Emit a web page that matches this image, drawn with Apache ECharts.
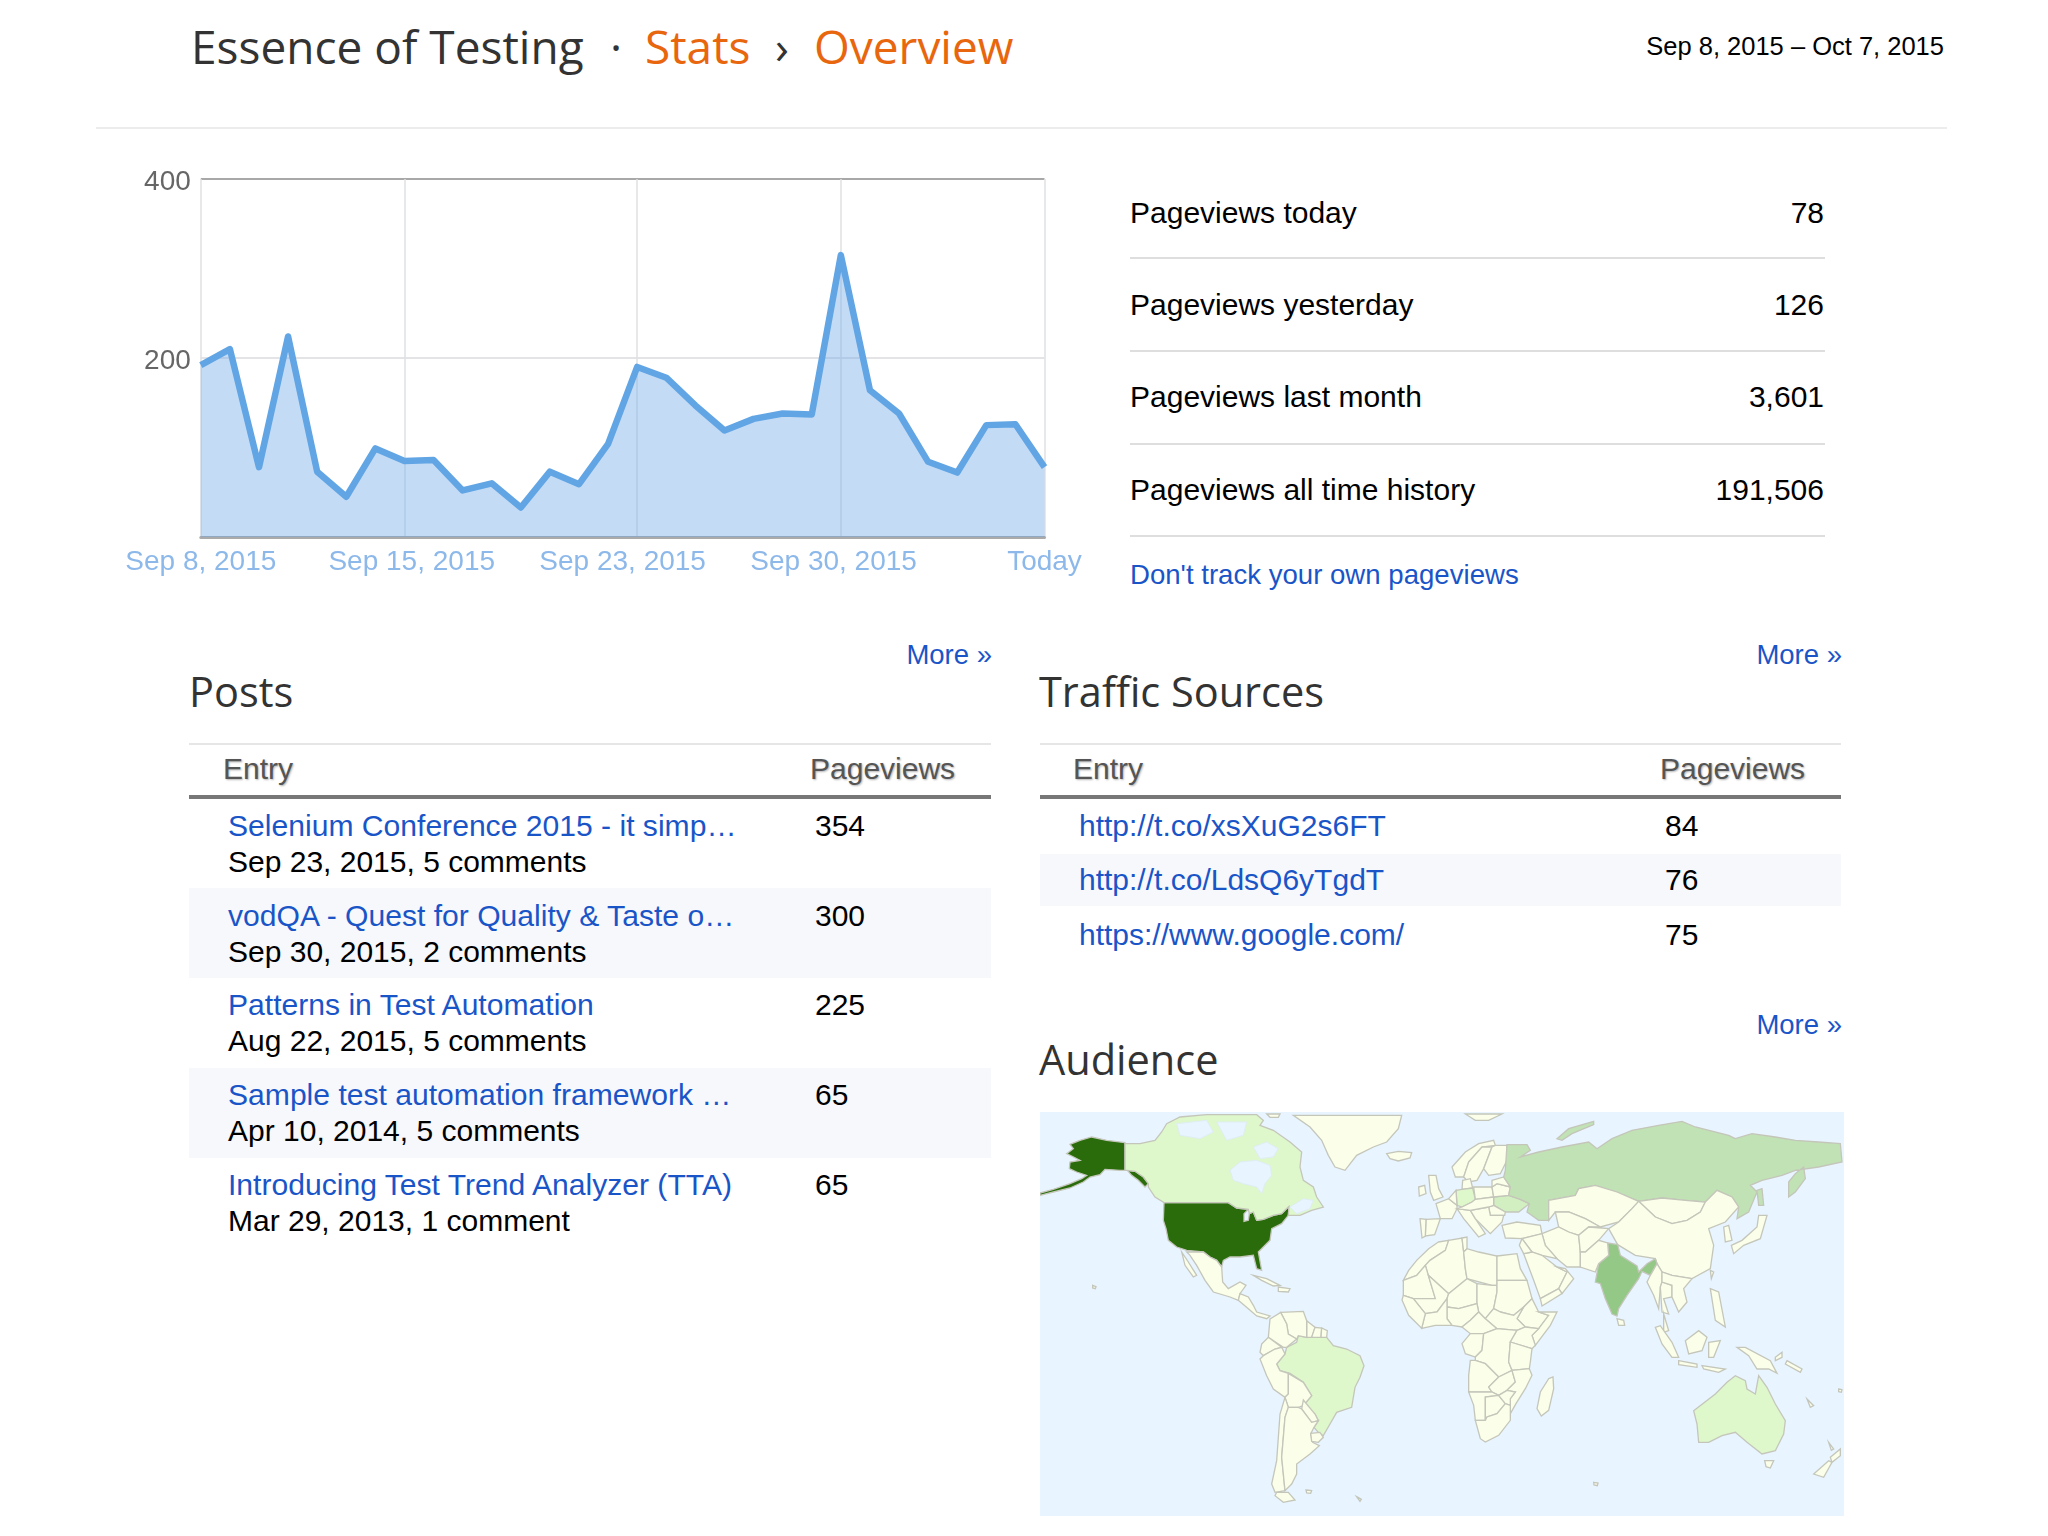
<!DOCTYPE html>
<html>
<head>
<meta charset="utf-8">
<title>Stats Overview</title>
<script src="https://cdn.jsdelivr.net/npm/echarts@6/dist/echarts.min.js"></script>
<style>
html,body{margin:0;padding:0;background:#fff;width:2048px;height:1536px;overflow:hidden;font-family:"Liberation Sans",Arial,sans-serif;}
#page{position:relative;width:2048px;height:1536px;}
.t{position:absolute;white-space:nowrap;line-height:40px;height:40px;}
.head{font-family:"Open Sans",sans-serif;color:#333;}
.orange{color:#e8660e;}
.link{color:#1a55c8;}
.th{color:#555;text-shadow:1px 1px 2px rgba(0,0,0,.3);}
.rule{position:absolute;}
#trend{position:absolute;left:100px;top:150px;width:1000px;height:450px;}
#world{position:absolute;left:1040px;top:1112px;width:804px;height:404px;background:#e8f4ff;filter:blur(0.6px);}
</style>
</head>
<body>
<div id="page">
	<div id="trend"></div>
	<div id="world"></div>
</div>
<script>
var days=['Sep 8','Sep 9','Sep 10','Sep 11','Sep 12','Sep 13','Sep 14','Sep 15','Sep 16','Sep 17','Sep 18','Sep 19','Sep 20','Sep 21','Sep 22','Sep 23','Sep 24','Sep 25','Sep 26','Sep 27','Sep 28','Sep 29','Sep 30','Oct 1','Oct 2','Oct 3','Oct 4','Oct 5','Oct 6','Oct 7'];
var pageviews=[192,210,78,224,73,45,99,85,86,52,60,33,73,59,104,190,178,147,119,132,138,137,315,164,138,84,72,125,126,78];
var gridDays=[0,7,15,22,29];
var xLabels=['Sep 8, 2015','Sep 15, 2015','Sep 23, 2015','Sep 30, 2015','Today'];

var statLabels=['Pageviews today','Pageviews yesterday','Pageviews last month','Pageviews all time history'];
var statValues=['78','126','3,601','191,506'];

var postTitles=['Selenium Conference 2015 - it simp…','vodQA - Quest for Quality & Taste o…','Patterns in Test Automation','Sample test automation framework …','Introducing Test Trend Analyzer (TTA)'];
var postDates=['Sep 23, 2015, 5 comments','Sep 30, 2015, 2 comments','Aug 22, 2015, 5 comments','Apr 10, 2014, 5 comments','Mar 29, 2013, 1 comment'];
var postViews=[354,300,225,65,65];

var sourceUrls=['http://t.co/xsXuG2s6FT','http://t.co/LdsQ6yTgdT','https://www.google.com/'];
var sourceViews=[84,76,75];

// audience shading (no numbers are printed on it)
var audienceCountries=['United States','India','Russia','Ukraine','Canada','Brazil','Australia','Germany'];
var audienceLevels=[100,75,50,35,25,25,25,25];

// outlines in map units, 3 units = 1 screen pixel, y down
var westLand={
	'United States':[
		[372,272,565,272,590,288,625,292,612,305,612,328,625,325,628,305,640,300,650,325,670,322,700,310,725,305,735,295,747,283,745,310,725,335,695,350,690,385,670,405,655,420,665,475,650,470,640,430,600,435,570,435,550,445,545,465,530,445,510,435,490,420,440,415,410,405,385,385,378,350,370,325],
		[255,92,255,175,240,175,195,172,180,188,150,195,130,210,90,228,40,240,0,250,0,243,40,232,90,215,125,200,140,190,110,180,88,170,90,150,120,145,95,132,80,125,100,110,90,97,120,85,155,75,200,85],
		[262,175,285,178,310,195,325,215,315,225,295,205,275,190]
	],
	'Canada':[[255,95,300,95,345,85,365,60,380,35,420,15,500,8,650,8,670,25,660,40,700,55,750,90,785,120,780,165,790,205,820,225,830,255,850,285,815,295,780,310,745,310,747,283,735,295,725,305,700,310,670,322,650,325,640,300,628,305,625,292,590,288,565,272,372,272,345,255,325,225,325,215,310,195,285,178,262,175,255,175]],
	'Greenland':[[760,10,1085,10,1075,50,1040,90,1000,105,950,130,915,175,885,165,865,130,845,85,810,45]],
	'Iceland':[[1040,125,1075,118,1115,122,1110,138,1075,147,1050,140]],
	'Mexico':[[440,420,490,420,510,435,530,445,545,465,548,510,565,530,600,510,618,520,600,545,595,565,570,555,520,540,495,505,470,460,450,430],[425,420,445,450,470,490,460,495,435,460]],
	'Central America':[[600,545,625,555,640,580,650,600,690,612,680,620,650,612,625,590,595,565]],
	'Cuba':[[640,490,680,500,720,520,700,522,665,505]],
	'Hispaniola':[[715,525,750,530,745,540,715,538]],
	'Hawaii':[[158,520,168,524,166,530,158,528]],
	'Arctic islands':[[680,6,720,6,715,16,690,16]]
};
var southAmerica={
	'Brazil':[[710,150,735,120,740,100,770,85,775,65,800,70,860,70,880,95,920,105,960,125,972,155,960,190,945,220,935,280,890,295,870,330,850,365,835,355,822,340,835,320,825,300,790,275,815,245,790,205,750,178,720,170]],
	'Guyana':[[800,20,825,40,815,70,800,70]],
	'Suriname':[[825,40,845,42,843,70,815,70]],
	'French Guiana':[[845,42,862,50,860,70,843,70]],
	'Venezuela':[[722,-5,790,-8,800,20,800,70,775,65,770,75,745,60,740,30]],
	'Colombia':[[690,15,722,-5,740,30,745,60,770,75,740,100,730,100,685,70]],
	'Ecuador':[[665,90,685,70,725,100,705,105,670,125,660,115]],
	'Peru':[[670,125,705,105,725,100,735,120,710,150,720,170,745,178,745,240,735,250,700,225,680,185,660,135]],
	'Bolivia':[[745,178,790,205,815,245,790,275,775,280,745,280,735,250,745,240]],
	'Paraguay':[[790,258,825,300,835,320,815,325,785,285]],
	'Chile':[[735,250,745,280,735,310,725,430,735,530,705,535,695,510,710,440,720,300]],
	'Argentina':[[745,280,775,280,785,285,815,325,835,320,822,340,812,360,818,385,838,395,810,420,770,450,770,480,755,510,735,530,725,430,735,310]],
	'Uruguay':[[812,358,840,355,850,370,835,385,815,382]],
	'Tierra del Fuego':[[710,535,745,535,765,558,730,565,705,545]],
	'Falklands':[[798,528,815,530,812,538,800,537]],
	'South Georgia':[[950,548,964,556,960,562]]
};
var eastLand={
	'Morocco':[[-11,390,20,385,10,415,-36,445,-50,460,-76,490,-116,505,-100,475,-76,445,-40,410]],
	'Algeria':[[20,385,60,378,65,420,70,470,75,500,20,545,-41,490,-50,460,-36,445,10,415]],
	'Tunisia':[[60,378,75,375,75,410,65,420]],
	'Libya':[[65,420,75,410,110,420,165,432,165,505,165,520,150,520,75,500,70,470]],
	'Egypt':[[165,432,225,425,235,470,255,505,165,505]],
	'Mauritania':[[-116,505,-76,490,-50,460,-41,490,-20,560,-86,560,-116,550]],
	'Mali':[[-41,490,20,545,15,560,-15,600,-50,605,-86,560,-20,560]],
	'Niger':[[75,500,105,515,105,575,50,590,15,585,15,560,20,545]],
	'Chad':[[105,515,150,520,165,520,165,540,155,590,130,620,110,600,105,575]],
	'Sudan':[[165,505,255,505,270,560,245,585,215,610,175,600,155,590,165,540]],
	'Ethiopia':[[245,585,270,560,290,600,320,610,290,650,250,645,225,620]],
	'Somalia':[[290,600,345,600,325,640,280,700,270,670,290,650,320,610]],
	'Central African Republic':[[175,600,215,610,245,585,225,620,250,645,225,655,165,650,130,620,155,590]],
	'Nigeria':[[15,585,50,590,105,575,110,600,85,625,60,645,30,640,15,620]],
	'Ivory Coast':[[-15,600,15,560,15,620,30,640,-20,640,-61,649,-50,605]],
	'Guinea':[[-116,550,-86,560,-50,605,-61,649,-100,610,-120,564]],
	'Cameroon':[[110,600,130,620,165,650,125,665,85,665,60,645,85,625]],
	'Gabon':[[85,665,125,665,120,715,100,735,70,725,60,695]],
	'DR Congo':[[125,665,165,650,225,655,205,690,200,750,210,775,170,795,130,755,100,745,100,735,120,715]],
	'Kenya':[[225,655,250,645,290,650,270,670,280,700,270,710,205,690]],
	'Tanzania':[[205,690,270,710,265,750,262,770,210,775,200,750]],
	'Angola':[[85,745,100,745,130,755,170,795,140,825,150,840,80,840,80,790]],
	'Zambia':[[170,795,210,775,220,810,195,835,170,850,150,840,140,825]],
	'Mozambique':[[262,770,270,790,250,830,222,875,205,905,205,860,220,840,195,835,220,810,210,775]],
	'Namibia':[[80,840,150,840,170,850,130,855,130,925,100,925,95,880]],
	'Botswana':[[130,855,170,850,190,875,165,905,135,915,130,925]],
	'Zimbabwe':[[170,850,195,835,220,840,205,860,205,880,190,875]],
	'South Africa':[[100,925,130,925,135,915,165,905,190,875,205,880,205,925,170,970,130,990,115,980]],
	'Madagascar':[[320,800,333,795,335,830,320,895,298,912,285,890,295,840]],
	'Norway':[[30,165,70,120,110,95,155,85,160,100,120,105,80,150,65,195,40,195]],
	'Sweden':[[80,150,120,105,150,105,125,170,105,205,80,210,65,195]],
	'Finland':[[160,100,195,100,195,145,175,185,140,190,125,170,150,105]],
	'Denmark':[[62,205,85,200,92,228,60,232]],
	'Great Britain':[[-40,190,-18,190,-10,230,3,255,-25,265,-35,240]],
	'Ireland':[[-70,225,-52,220,-48,245,-68,252]],
	'Svalbard':[[70,6,180,6,140,25,100,25]],
	'France':[[-18,275,20,260,45,280,45,290,30,320,-5,320]],
	'Spain':[[-48,322,-5,320,-22,368,-50,372]],
	'Portugal':[[-66,320,-48,322,-50,372,-60,378]],
	'Germany':[[42,235,60,232,92,228,95,225,100,262,90,270,60,285,45,280]],
	'Benelux':[[20,260,42,235,45,280]],
	'Poland':[[95,225,150,225,155,255,100,262]],
	'Italy':[[45,290,85,295,100,320,130,365,110,375,65,320]],
	'Ukraine':[[155,255,200,250,235,262,262,275,230,300,190,300,155,280]],
	'Belarus':[[150,225,165,215,205,225,200,250,155,255]],
	'Baltics':[[150,205,185,195,205,225,165,215,150,225]],
	'Romania':[[140,285,155,280,190,300,188,310,145,310]],
	'Balkans':[[85,295,140,285,145,310,185,310,180,330,145,365,130,350,100,320]],
	'Austria':[[60,285,90,270,100,262,155,255,155,280,140,285,85,295,45,290]],
	'Turkey':[[180,340,225,330,295,340,300,365,240,380,190,378]],
	'Russia':[
		[195,98,255,98,265,115,235,135,290,120,360,105,440,90,465,110,510,80,570,55,650,40,720,28,760,45,860,70,880,80,930,65,1000,75,1060,85,1130,90,1195,95,1200,150,1130,165,1060,175,1020,190,960,205,925,220,945,240,920,300,885,320,890,285,870,255,825,235,790,270,730,265,660,258,590,268,525,240,460,220,410,230,400,250,320,265,320,325,290,325,255,300,262,275,235,262,200,250,205,225,185,195,190,175],
		[1040,210,1060,185,1085,165,1090,200,1060,240,1040,255],
		[945,235,960,230,965,280,950,280],
		[345,80,380,50,455,28,455,38,390,65,360,85]
	],
	'Kazakhstan':[[320,265,400,250,410,230,460,220,525,240,590,268,570,290,530,330,475,345,430,320,380,300,340,300,320,325]],
	'Mongolia':[[590,268,660,258,730,265,790,270,775,300,735,325,690,335,640,315]],
	'China':[[590,268,640,315,690,335,735,325,775,300,790,270,825,235,870,255,890,285,850,330,800,350,815,400,805,470,750,500,690,490,660,480,645,455,640,440,580,430,527,398,500,350,530,330,570,290]],
	'India':[[497,393,527,398,535,430,585,462,590,480,615,455,640,440,645,455,625,490,600,478,590,500,555,550,530,590,525,612,510,606,490,560,475,515,460,510,470,455,500,430]],
	'Sri Lanka':[[525,620,545,625,548,640,530,640]],
	'Uzbekistan':[[340,300,380,300,430,320,475,345,440,345,410,370,380,360,350,345]],
	'Iran':[[300,365,350,345,380,360,410,370,415,420,415,465,375,465,345,440,310,400]],
	'Iraq':[[240,380,300,365,310,400,345,440,300,430,270,420]],
	'Afghanistan':[[410,370,440,345,500,350,470,385,430,420,415,420]],
	'Pakistan':[[415,420,430,420,470,385,497,393,500,430,470,455,460,480,415,465]],
	'Saudi Arabia':[[245,425,270,420,300,430,345,465,375,480,350,530,295,560,275,505]],
	'Oman':[[345,465,370,470,395,500,360,545,350,530,375,480]],
	'Yemen':[[295,560,350,530,360,545,300,582]],
	'Syria':[[240,380,270,420,245,425,232,400]],
	'Myanmar':[[625,490,645,455,660,480,660,510,655,525,650,590,635,550,615,510]],
	'Thailand':[[660,510,690,520,690,555,665,560,680,606,660,600,655,525]],
	'Vietnam':[[690,490,750,500,725,530,735,570,710,600,690,555,690,520,660,510,660,480]],
	'Korea':[[845,345,860,340,870,385,850,390]],
	'Japan':[[868,400,900,385,945,345,950,310,975,310,955,380,905,400,875,425]],
	'Taiwan':[[805,475,815,480,808,500]],
	'Philippines':[[805,530,830,540,850,645,820,625]],
	'Malaysia':[[665,606,680,656,665,661]],
	'Sumatra':[[640,646,655,641,690,691,710,736,690,736,660,696]],
	'Java':[[710,746,765,756,765,766,710,758]],
	'Borneo':[[730,686,770,656,795,676,780,716,740,726]],
	'Sulawesi':[[800,691,835,686,815,736,800,736]],
	'New Guinea':[[885,706,910,706,985,746,1005,784,980,771,945,771,920,731]],
	'Lesser Sunda':[[780,761,850,771,830,781,785,771]],
	'New Britain':[[1000,736,1020,721,1020,736,1000,746]],
	'Solomon Islands':[[1035,746,1080,771,1075,781,1030,756]],
	'Australia':[[755,896,820,846,855,811,880,791,910,806,915,831,940,846,950,791,975,826,1000,876,1030,926,1025,966,1000,1016,960,1026,915,991,880,961,840,971,800,991,770,991,765,936]],
	'Tasmania':[[968,1046,995,1046,985,1068,972,1064]],
	'New Zealand':[[1115,1086,1160,1046,1170,1051,1145,1096],[1165,1036,1195,1011,1195,1031,1170,1051],[1160,991,1175,1011,1168,1015]],
	'New Caledonia':[[1095,861,1115,881,1105,886]],
	'Fiji':[[1190,831,1200,833,1198,841,1190,839]],
	'Kerguelen':[[455,1111,468,1113,466,1121,456,1119]]
};
// painted last over the land, left without a value so they keep the sea colour
var inlandWater={
	'Hudson Bay':[[570,175,600,150,650,145,690,160,695,190,675,215,665,245,650,225,610,215,580,205]],
	'Foxe Basin':[[640,105,680,90,715,110,700,135,660,140]],
	'Arctic Channels':[[410,35,500,25,520,60,480,80,420,70]],
	'Baffin Channels':[[530,30,620,30,610,70,560,85]],
	'Saint Lawrence':[[750,285,790,260,820,265,810,290,770,305]]
};

function addRings(features,shapes,dx,dy){
	var name,i,j,rings,ring,flat;
	for(name in shapes){
		rings=[];
		for(i=0;i<shapes[name].length;i++){
			flat=shapes[name][i];
			ring=[];
			for(j=0;j<flat.length;j+=2){
				ring.push([flat[j]+dx,-(flat[j+1]+dy)]);
			}
			ring.push(ring[0]);
			rings.push([ring]);
		}
		features.push({type:'Feature',properties:{name:name},geometry:{type:'MultiPolygon',coordinates:rings}});
	}
}

var worldFeatures=[];
addRings(worldFeatures,westLand,0,0);
addRings(worldFeatures,southAmerica,0,606);
addRings(worldFeatures,eastLand,1206,0);
addRings(worldFeatures,inlandWater,0,0);
echarts.registerMap('blogWorld',{type:'FeatureCollection',features:worldFeatures});

var seaColor='#e8f4ff';
var landBorder={borderColor:'#c4c6ba',borderWidth:1.3};
var audienceData=[];
worldFeatures.forEach(function(f){
	var name=f.properties.name;
	var idx=audienceCountries.indexOf(name);
	if(!inlandWater[name]){
		audienceData.push({name:name,value:idx>=0?audienceLevels[idx]:0,itemStyle:landBorder});
	}
});

var worldChart=echarts.init(document.getElementById('world'));
worldChart.setOption({
	animation:false,
	visualMap:{
		show:false,
		type:'continuous',
		min:0,
		max:100,
		inRange:{color:['#fbfee8','#def7cb','#c1e2b4','#93c886','#2a6c0c']}
	},
	series:[{
		type:'map',
		map:'blogWorld',
		roam:false,
		silent:true,
		aspectScale:1,
		boundingCoords:[[0,0],[2412,-1212]],
		left:0,
		top:0,
		width:804,
		height:404,
		label:{show:false},
		itemStyle:{areaColor:seaColor,borderColor:'#dfeef2',borderWidth:1},
		data:audienceData
	}]
});

var trendChart=echarts.init(document.getElementById('trend'));
trendChart.setOption({
	animation:false,
	grid:{left:100.8,right:55.5,top:29,height:358},
	xAxis:[{
		type:'category',
		data:days,
		boundaryGap:false,
		axisLine:{show:true,lineStyle:{color:'#aaa',width:3}},
		axisTick:{show:false},
		axisLabel:{show:false},
		splitLine:{
			show:true,
			interval:function(i){return gridDays.indexOf(i)>=0;},
			lineStyle:{color:'#dfe0e3',width:1.5}
		}
	},{
		// labels are evenly spaced, they do not sit on the gridlines
		type:'category',
		data:xLabels,
		position:'bottom',
		boundaryGap:false,
		axisLine:{show:false},
		axisTick:{show:false},
		axisLabel:{show:true,interval:0,color:'#8db8ea',fontSize:28,fontFamily:'Liberation Sans',margin:11,hideOverlap:false},
		splitLine:{show:false}
	}],
	yAxis:{
		type:'value',
		min:0,
		max:400,
		interval:200,
		axisLine:{show:false},
		axisTick:{show:false},
		axisLabel:{
			margin:10,
			formatter:function(v){return v===0?'':'{v|'+v+'}';},
			rich:{v:{color:'#666',fontSize:28,fontFamily:'Liberation Sans',padding:[6,0,0,0]}}
		},
		splitLine:{show:true,lineStyle:{color:['#aaa','#e4e4e6','#a8a8a8'],width:2}}
	},
	series:[{
		type:'line',
		data:pageviews,
		symbol:'none',
		lineStyle:{color:'#62a5e5',width:6.5,join:'round'},
		areaStyle:{color:'#6aa6e6',opacity:0.4}
	}]
});

var page=document.getElementById('page');
function put(text,x,y,size,cls,rightAlign){
	var el=document.createElement('div');
	el.className='t '+(cls||'');
	el.textContent=text;
	el.style.fontSize=size+'px';
	el.style.top=(y-20)+'px';
	if(rightAlign){el.style.right=(2048-x)+'px';}else{el.style.left=x+'px';}
	page.appendChild(el);
}
function rule(x0,x1,y,h,color){
	var el=document.createElement('div');
	el.className='rule';
	el.style.cssText='left:'+x0+'px;width:'+(x1-x0)+'px;top:'+y+'px;height:'+h+'px;background:'+color;
	page.appendChild(el);
}

// header
put('Essence of Testing',191,46,46,'head');
put('·',610,46,46,'head');
put('Stats',645,46,46,'head orange');
put('›',775,46,46,'head');
put('Overview',814,46,46,'head orange');
put('Sep 8, 2015 – Oct 7, 2015',1944,46,25.5,'',true);
rule(96,1947,127,2,'#ececec');

// pageview counters
var statY=[212.5,304.5,397,489.5];
var statRuleY=[256.5,349.5,442.5,534.5];
statLabels.forEach(function(label,i){
	put(label,1130,statY[i],30);
	put(statValues[i],1824,statY[i],30,'',true);
	rule(1130,1825,statRuleY[i],2,'#dedede');
});
put("Don't track your own pageviews",1130,575,27.6,'link');

// section headings
put('More »',992,655,27.5,'link',true);
put('More »',1842,655,27.5,'link',true);
put('More »',1842,1024.5,27.5,'link',true);
put('Posts',189,691,41.5,'head');
put('Traffic Sources',1039,691,41.5,'head');
put('Audience',1039,1059,41.5,'head');

function tableHead(x0,x1,entryX,viewsX){
	rule(x0,x1,743,2,'#e6e6e6');
	put('Entry',entryX,769,30,'th');
	put('Pageviews',viewsX,769,30,'th');
	rule(x0,x1,795,4,'#777');
}
tableHead(189,991,223,810);
tableHead(1040,1841,1073,1660);

// posts table
rule(189,991,888,90,'#f7f8fb');
rule(189,991,1068,90,'#f7f8fb');
postTitles.forEach(function(title,i){
	var y=826+i*89.7;
	put(title,228,y,30.1,'link');
	put(postDates[i],228,y+36,30);
	put(String(postViews[i]),815,y,30);
});

// traffic sources table
rule(1040,1841,854,52,'#f7f8fb');
var sourceY=[826,880,934.5];
sourceUrls.forEach(function(url,i){
	put(url,1079,sourceY[i],30,'link');
	put(String(sourceViews[i]),1665,sourceY[i],30);
});
</script>
</body>
</html>
